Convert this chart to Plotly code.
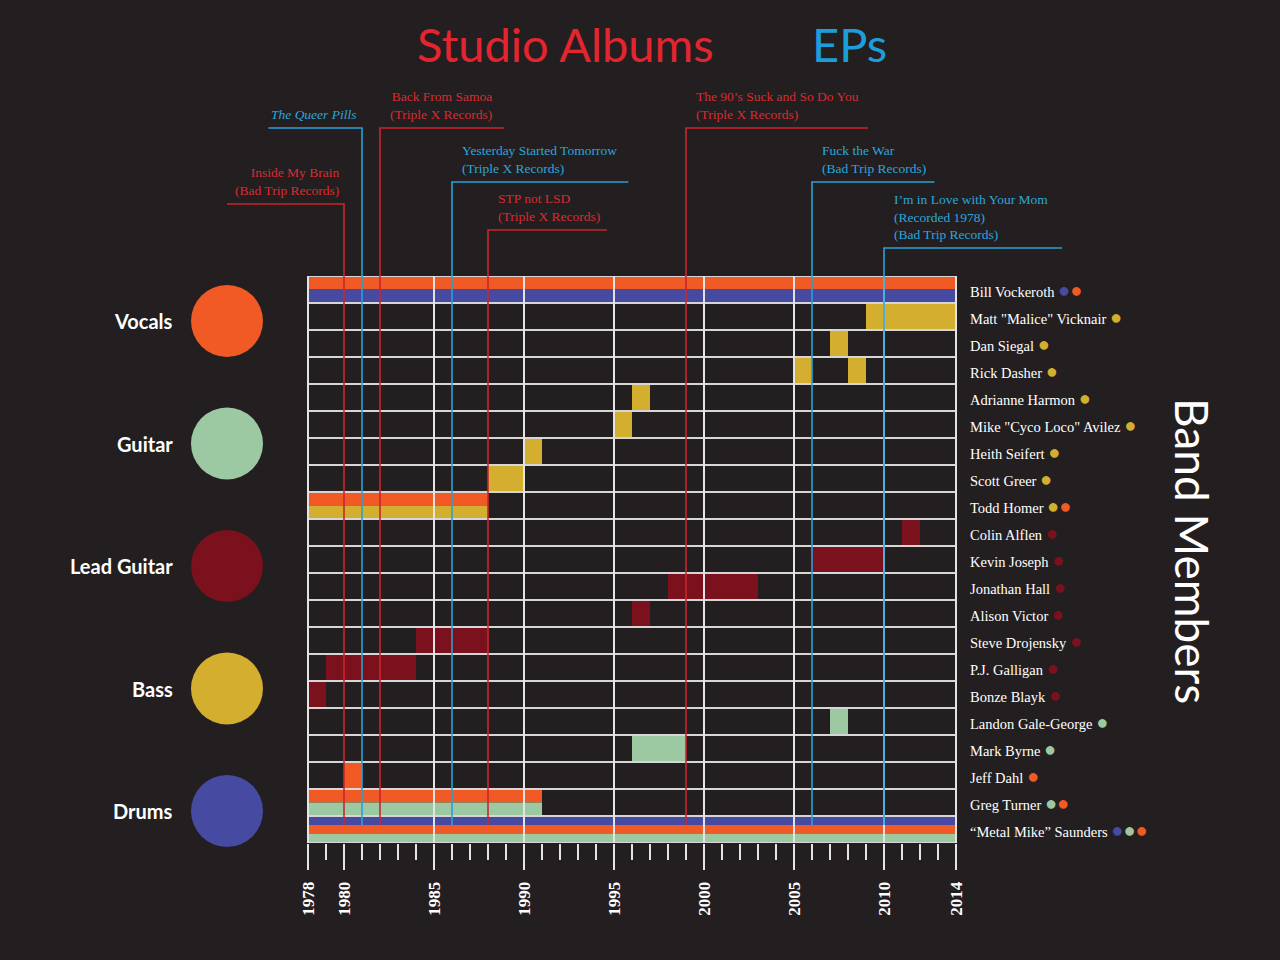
import plotly.graph_objects as go

BG = "#231f20"
SERIF = "Liberation Serif"
SANS = "Lato"

# roles and their colours (legend order)
roles = ["Vocals", "Guitar", "Lead Guitar", "Bass", "Drums"]
role_colors = ["#f15a24", "#9dc9a2", "#7b111c", "#d4ae2f", "#464ba1"]

# band members, top to bottom
members = [
    "Bill Vockeroth", 'Matt "Malice" Vicknair', "Dan Siegal", "Rick Dasher",
    "Adrianne Harmon", 'Mike "Cyco Loco" Avilez', "Heith Seifert", "Scott Greer",
    "Todd Homer", "Colin Alflen", "Kevin Joseph", "Jonathan Hall", "Alison Victor",
    "Steve Drojensky", "P.J. Galligan", "Bonze Blayk", "Landon Gale-George",
    "Mark Byrne", "Jeff Dahl", "Greg Turner", "\u201cMetal Mike\u201d Saunders",
]

# roles per member (stripe order inside the row)
member_roles = [
    ["Vocals", "Drums"],
    ["Bass"], ["Bass"], ["Bass"], ["Bass"], ["Bass"], ["Bass"], ["Bass"],
    ["Vocals", "Bass"],
    ["Lead Guitar"], ["Lead Guitar"], ["Lead Guitar"], ["Lead Guitar"],
    ["Lead Guitar"], ["Lead Guitar"], ["Lead Guitar"],
    ["Guitar"], ["Guitar"],
    ["Vocals"],
    ["Vocals", "Guitar"],
    ["Drums", "Vocals", "Guitar"],
]

# years in the band (start, end)
tenures = [
    [(1978, 2014)],
    [(2009, 2014)],
    [(2007, 2008)],
    [(2005, 2006), (2008, 2009)],
    [(1996, 1997)],
    [(1995, 1996)],
    [(1990, 1991)],
    [(1988, 1990)],
    [(1978, 1988)],
    [(2011, 2012)],
    [(2006, 2010)],
    [(1998, 2003)],
    [(1996, 1997)],
    [(1984, 1988)],
    [(1979, 1984)],
    [(1978, 1979)],
    [(2007, 2008)],
    [(1996, 1999)],
    [(1980, 1981)],
    [(1978, 1991)],
    [(1978, 2014)],
]

# releases
release_titles = ["Inside My Brain", "<i>The Queer Pills</i>", "Back From Samoa",
                  "Yesterday Started Tomorrow", "STP not LSD",
                  "The 90\u2019s Suck and So Do You", "Fuck the War",
                  "I\u2019m in Love with Your Mom"]
release_notes = ["(Bad Trip Records)", "", "(Triple X Records)", "(Triple X Records)",
                 "(Triple X Records)", "(Triple X Records)", "(Bad Trip Records)",
                 "(Recorded 1978)<br>(Bad Trip Records)"]
release_years = [1980, 1981, 1982, 1986, 1988, 1999, 2006, 2010]
release_types = ["Studio", "EP", "Studio", "EP", "Studio", "Studio", "EP", "EP"]

tick_years = [1978, 1980, 1985, 1990, 1995, 2000, 2005, 2010, 2014]
grid_years = [1978, 1985, 1990, 1995, 2000, 2005, 2010, 2014]

# page geometry: the plot div sits 8px in from the page corner
W, H, OFF = 1272, 952, 8


def fx(p):
    return (p - OFF) / W


def fy(p):
    return 1 - (p - OFF) / H


# label placement (styling only)
leader_px = [204, 128, 128, 182, 230, 128, 182, 248]
leader_end = [1973.5, 1975.8, 1988.9, 1995.8, 1994.6, 2009.1, 2012.8, 2019.9]
label_align = ["right", "right", "right", "left", "left", "left", "left", "left"]

RED_TXT = "#dc2a30"
BLUE_TXT = "#2aa6de"
RED_LINE = "#c9262d"
BLUE_LINE = "#2aa0d8"

X_DOM = [fx(200), fx(1082)]
Y_DOM = [fy(843), fy(276)]
N = len(members)
first_year, last_year = 1978, 2014

fig = go.Figure()

# bars, one trace per role
for role, col in zip(roles, role_colors):
    base, dur, yc, wd = [], [], [], []
    for i, (rl, spans) in enumerate(zip(member_roles, tenures)):
        if role not in rl:
            continue
        k = len(rl)
        j = rl.index(role)
        for s, e in spans:
            base.append(s)
            dur.append(e - s)
            yc.append(i - 0.5 + (j + 0.5) / k)
            wd.append(1 / k)
    fig.add_trace(go.Bar(orientation="h", base=base, x=dur, y=yc, width=wd,
                         marker=dict(color=col, line=dict(width=0)),
                         showlegend=False, hoverinfo="skip"))

# row separators and year grid, drawn over the bars
hx, hy = [], []
for i in range(N + 1):
    hx += [first_year, last_year, None]
    hy += [i - 0.5, i - 0.5, None]
fig.add_trace(go.Scatter(x=hx, y=hy, mode="lines", line=dict(color="#d6d6d6", width=2),
                         showlegend=False, hoverinfo="skip"))
vx, vy = [], []
for yr in grid_years:
    vx += [yr, yr, None]
    vy += [-0.5, N - 0.5, None]
fig.add_trace(go.Scatter(x=vx, y=vy, mode="lines", line=dict(color="#e4e4e4", width=2),
                         showlegend=False, hoverinfo="skip"))

# role legend circles
fig.add_trace(go.Scatter(x=[0] * len(roles), y=list(range(len(roles))), mode="markers",
                         marker=dict(size=72, color=role_colors, line=dict(width=0)),
                         xaxis="x2", yaxis="y2", cliponaxis=False,
                         showlegend=False, hoverinfo="skip"))
for i, role in enumerate(roles):
    fig.add_annotation(x=0, y=i, xref="x2", yref="y2", text="<b>" + role + "</b>",
                       showarrow=False, xanchor="right", xshift=-52,
                       font=dict(family=SANS, size=20, color="white"))


def row_to_paper(r):
    return Y_DOM[0] + (N - 0.5 - r) / N * (Y_DOM[1] - Y_DOM[0])


line_bottom = row_to_paper(N - 1.5 + 1 / 3)

# release lines and labels
for t, note, yr, kind, lp, lend, al in zip(release_titles, release_notes, release_years,
                                           release_types, leader_px, leader_end, label_align):
    ly = fy(lp)
    lc = RED_LINE if kind == "Studio" else BLUE_LINE
    tc = RED_TXT if kind == "Studio" else BLUE_TXT
    fig.add_shape(type="path", xref="x", yref="paper",
                  path=f"M {lend},{ly} L {yr},{ly} L {yr},{line_bottom}",
                  line=dict(color=lc, width=1.6), layer="above")
    txt = t + ("<br>" + note if note else "")
    left = lend < yr
    fig.add_annotation(x=yr, y=ly, xref="x", yref="paper", text=txt, showarrow=False,
                       xanchor="right" if left else "left",
                       xshift=-3 if left else 8, yanchor="bottom", yshift=4,
                       align=al, font=dict(family=SERIF, size=13.5, color=tc))

# member names with role dots
for i, (name, rl) in enumerate(zip(members, member_roles)):
    dots = "".join(
        f'<span style="color:{role_colors[roles.index(r)]};font-size:20px">\u25cf</span>'
        for r in sorted(rl))
    fig.add_annotation(x=last_year, y=i, xref="x", yref="y", text=name + " " + dots,
                       showarrow=False, xanchor="left", xshift=12,
                       font=dict(family=SERIF, size=14.5, color="white"))

# titles
fig.add_annotation(x=fx(565), y=fy(44), xref="paper", yref="paper", text="Studio Albums",
                   xanchor="center", yanchor="middle", showarrow=False,
                   font=dict(family=SANS, size=47, color="#e42530"))
fig.add_annotation(x=fx(849), y=fy(44), xref="paper", yref="paper", text="EPs",
                   xanchor="center", yanchor="middle", showarrow=False,
                   font=dict(family=SANS, size=47, color="#1d9dd9"))
fig.add_annotation(x=fx(1193), y=fy(551), xref="paper", yref="paper", text="Band Members",
                   textangle=90, xanchor="center", yanchor="middle", showarrow=False,
                   font=dict(family=SANS, size=46, color="white"))

fig.update_layout(
    width=W, height=H,
    margin=dict(l=0, r=0, t=0, b=0),
    paper_bgcolor=BG, plot_bgcolor=BG,
    barmode="overlay", showlegend=False,
    xaxis=dict(domain=X_DOM, range=[1972, 2021], showgrid=False, zeroline=False,
               showline=False, automargin=False,
               tickmode="array", tickvals=tick_years, ticks="outside", ticklen=26,
               tickwidth=1.5, tickcolor="#e4e4e4", tickangle=-90, ticklabelstandoff=5,
               tickfont=dict(family=SERIF, size=17, color="white"),
               ticktext=[f"<b>{y}</b>" for y in tick_years],
               minor=dict(tickmode="array", tickvals=list(range(first_year, last_year + 1)),
                          ticks="outside", ticklen=16, tickwidth=1.5, tickcolor="#e4e4e4")),
    yaxis=dict(domain=Y_DOM, range=[N - 0.5, -0.5], visible=False, automargin=False),
    xaxis2=dict(domain=[fx(154), fx(300)], range=[-1, 1], visible=False,
                anchor="y2", automargin=False),
    yaxis2=dict(domain=Y_DOM, range=[4 + 32 / 122.5, -45 / 122.5], visible=False,
                anchor="x2", automargin=False),
)

fig.write_html("out.html", post_script="document.body.style.background='#231f20';")
